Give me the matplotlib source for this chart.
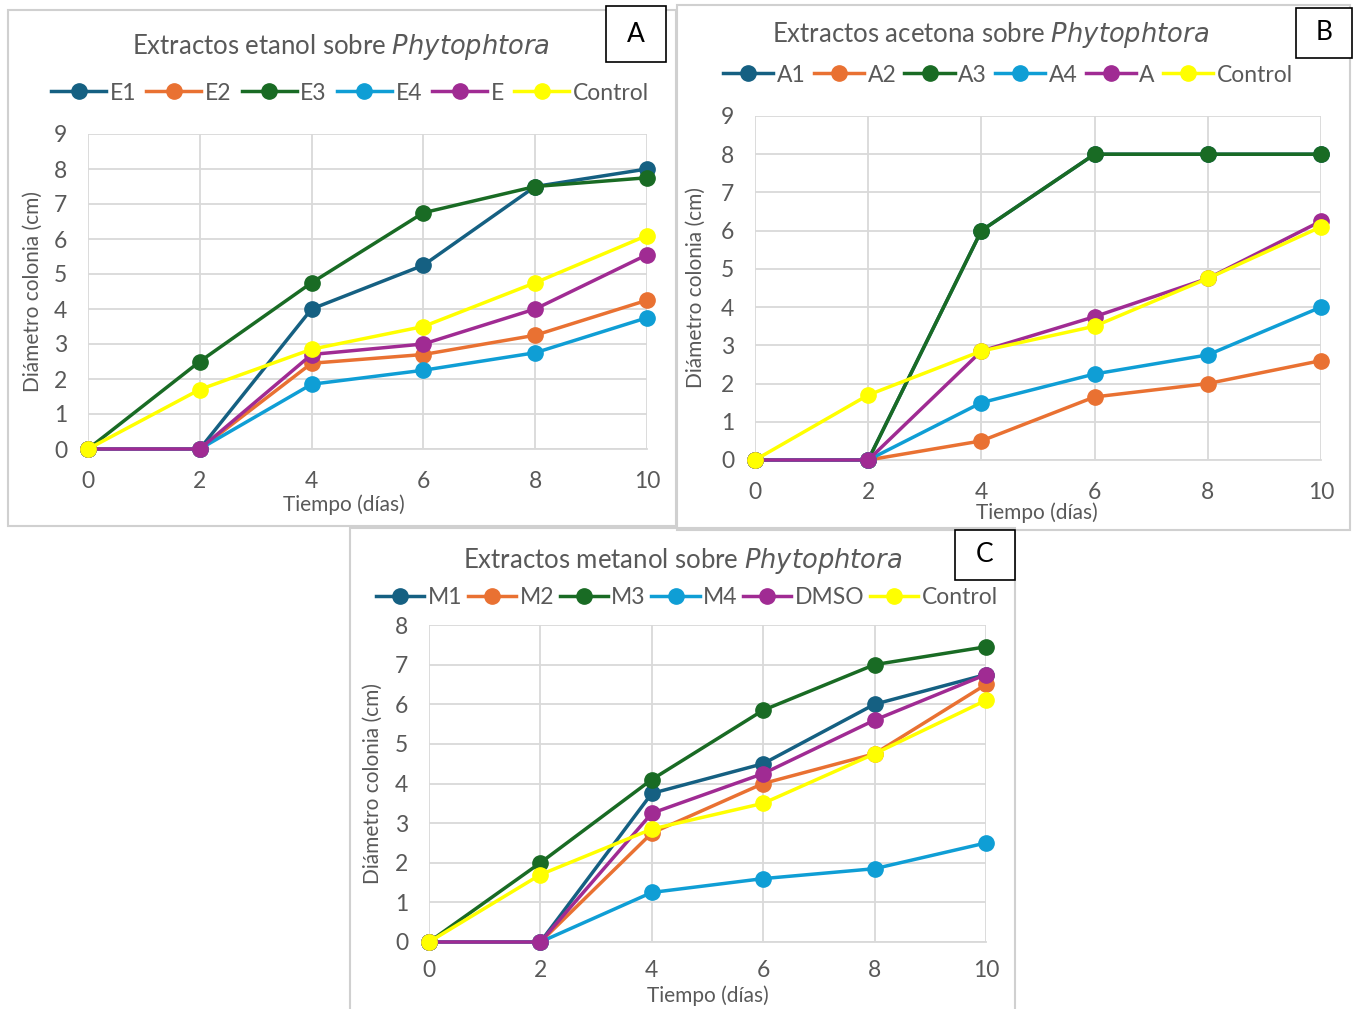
import matplotlib
matplotlib.use("Agg")
import matplotlib.pyplot as plt
from matplotlib.patches import Rectangle
from matplotlib.lines import Line2D

W, H = 1357, 1009
plt.rcParams['font.family'] = ['Lato', 'DejaVu Sans']

days = [0, 2, 4, 6, 8, 10]

# Panel A - etanol
labels_a = ["E1", "E2", "E3", "E4", "E", "Control"]
e1 = [0, 0, 4.0, 5.25, 7.5, 8.0]
e2 = [0, 0, 2.45, 2.7, 3.25, 4.25]
e3 = [0, 2.5, 4.75, 6.75, 7.5, 7.75]
e4 = [0, 0, 1.85, 2.25, 2.75, 3.75]
e_ = [0, 0, 2.7, 3.0, 4.0, 5.55]
ctrl_a = [0, 1.7, 2.85, 3.5, 4.75, 6.1]

# Panel B - acetona
labels_b = ["A1", "A2", "A3", "A4", "A", "Control"]
a1 = [0, 0, 6.0, 8.0, 8.0, 8.0]
a2 = [0, 0, 0.5, 1.65, 2.0, 2.6]
a3 = [0, 0, 6.0, 8.0, 8.0, 8.0]
a4 = [0, 0, 1.5, 2.25, 2.75, 4.0]
a_ = [0, 0, 2.85, 3.75, 4.75, 6.25]
ctrl_b = [0, 1.7, 2.85, 3.5, 4.75, 6.1]

# Panel C - metanol
labels_c = ["M1", "M2", "M3", "M4", "DMSO", "Control"]
m1 = [0, 0, 3.75, 4.5, 6.0, 6.75]
m2 = [0, 0, 2.75, 4.0, 4.75, 6.5]
m3 = [0, 2.0, 4.1, 5.85, 7.0, 7.45]
m4 = [0, 0, 1.25, 1.6, 1.85, 2.5]
dmso = [0, 0, 3.25, 4.25, 5.6, 6.75]
ctrl_c = [0, 1.7, 2.85, 3.5, 4.75, 6.1]

colors = ["#156082", "#E97132", "#196B24", "#0F9ED5", "#A02B93", "#FFFF00"]
TXT = "#595959"
GRID = "#d9d9d9"

fig = plt.figure(figsize=(W / 100, H / 100), dpi=100)


def fx(x):
    return x / W


def fy(y):
    return 1 - y / H


def panel_box(l, t, r, b):
    fig.patches.append(Rectangle((fx(l), fy(b)), fx(r - l), (b - t) / H,
                                 transform=fig.transFigure, fill=False,
                                 edgecolor="#d0d0d0", lw=1.5))


def letter_box(l, t, r, b, letter):
    fig.patches.append(Rectangle((fx(l), fy(b)), fx(r - l), (b - t) / H,
                                 transform=fig.transFigure, facecolor="white",
                                 edgecolor="black", lw=1.2, zorder=5))
    fig.text(fx((l + r) / 2), fy((t + b) / 2), letter, ha="center", va="center",
             fontsize=19, color="black", zorder=6)


def make_panel(l, t, r, b, ymax, series, labels, title_start, title_xy,
               legend_xy, ylabel_xy, xlabel_xy, xpad=16, hlen=2.3, cspace=0.4):
    ax = fig.add_axes([fx(l), fy(b), fx(r - l), (b - t) / H])
    for vals, lab, c in zip(series, labels, colors):
        ax.plot(days, vals, color=c, lw=2.5, marker="o", markersize=11,
                markerfacecolor=c, markeredgecolor=c, label=lab, clip_on=False,
                zorder=3)
    ax.set_xlim(0, 10)
    ax.set_ylim(0, ymax)
    ax.set_xticks(days)
    ax.set_yticks(range(0, ymax + 1))
    ax.grid(True, color=GRID, lw=1.3)
    ax.set_axisbelow(True)
    for s in ["top", "right", "left"]:
        ax.spines[s].set_visible(False)
    ax.spines["bottom"].set_color(GRID)
    ax.spines["bottom"].set_linewidth(1.3)
    ax.tick_params(length=0, labelsize=16.5, labelcolor=TXT)
    ax.tick_params(axis="x", pad=xpad)
    ax.tick_params(axis="y", pad=15)
    fig.text(fx(title_xy[0]), fy(title_xy[1]),
             title_start + r" $\it{Phytophtora}$", ha="center", va="center",
             fontsize=18.5, color=TXT)
    fig.text(fx(ylabel_xy[0]), fy(ylabel_xy[1]), "Diámetro colonia (cm)",
             rotation=90, ha="center", va="center", fontsize=15, color=TXT)
    fig.text(fx(xlabel_xy[0]), fy(xlabel_xy[1]), "Tiempo (días)",
             ha="center", va="center", fontsize=15, color=TXT)
    handles = [Line2D([], [], color=c, lw=2.5, marker="o", markersize=11)
               for c in colors]
    fig.legend(handles, labels, loc="center", ncol=6,
               bbox_to_anchor=(fx(legend_xy[0]), fy(legend_xy[1])),
               frameon=False, fontsize=16.5, labelcolor=TXT, handlelength=hlen,
               handletextpad=0.15, columnspacing=cspace, borderaxespad=0)
    return ax


panel_box(8, 10, 676, 526)
panel_box(677, 5, 1350, 530)
panel_box(350, 528, 1015, 1012)

make_panel(88, 134, 647, 449, 9, [e1, e2, e3, e4, e_, ctrl_a], labels_a,
           "Extractos etanol sobre", (341, 47), (350, 93), (33, 291), (344, 505),
           hlen=2.4, cspace=0.45)
make_panel(755, 116, 1321, 460, 9, [a1, a2, a3, a4, a_, ctrl_b], labels_b,
           "Extractos acetona sobre", (991, 35), (1008, 75), (696, 288), (1037, 513),
           hlen=2.2, cspace=0.35)
make_panel(429, 625, 986, 942, 8, [m1, m2, m3, m4, dmso, ctrl_c], labels_c,
           "Extractos metanol sobre", (683, 561), (687, 598), (373, 783), (708, 996),
           xpad=13, hlen=2.1, cspace=0.25)

letter_box(606, 6, 666, 62, "A")
letter_box(1296, 8, 1352, 58, "B")
letter_box(955, 530, 1015, 580, "C")

fig.savefig("out.png", dpi=100, facecolor="white")
